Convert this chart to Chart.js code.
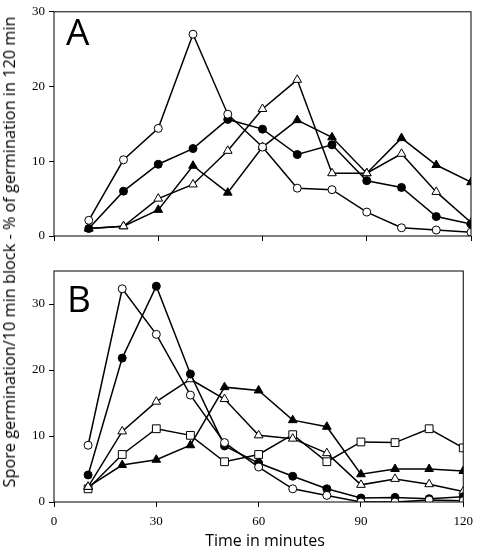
<!DOCTYPE html>
<html>
<head>
<meta charset="utf-8">
<script src="https://cdn.jsdelivr.net/npm/chart.js@4.4.0/dist/chart.umd.min.js"></script>
<style>
  body { margin: 0; background: #fff; }
  #wrap { position: relative; width: 480px; height: 550px; overflow: hidden; }
  #cA { position: absolute; left: 0; top: 0; }
  #cB { position: absolute; left: 0; top: 250px; }
  .lbl { position: absolute; font-family: "Open Sans", sans-serif; color: #000; white-space: nowrap; }
  #ytitle { left: 9px; top: 252px; font-size: 16.3px; transform: translate(-50%, -50%) rotate(-90deg); }
  #xtitle { left: 265px; top: 540px; font-size: 16px; transform: translate(-50%, -50%); }
</style>
</head>
<body>
<div id="wrap">
  <canvas id="cA" width="480" height="250"></canvas>
  <canvas id="cB" width="480" height="300"></canvas>
  <div class="lbl" id="ytitle">Spore germination/10 min block - % of germination in 120 min</div>
  <div class="lbl" id="xtitle">Time in minutes</div>
</div>
<script>
var minutes = [10, 20, 30, 40, 50, 60, 70, 80, 90, 100, 110, 120];

// panel A
var aOpenCircle   = [2.1, 10.2, 14.4, 27.0, 16.3, 11.9, 6.4, 6.2, 3.2, 1.1, 0.8, 0.5];
var aFilledCircle = [1.0, 6.0, 9.6, 11.7, 15.6, 14.3, 10.9, 12.2, 7.4, 6.5, 2.6, 1.6];
var aOpenTri      = [1.0, 1.3, 5.0, 6.9, 11.4, 17.0, 20.9, 8.4, 8.4, 11.0, 5.9, 1.8];
var aFilledTri    = [1.0, 1.3, 3.5, 9.4, 5.8, 11.9, 15.5, 13.2, 8.4, 13.1, 9.5, 7.2];

// panel B
var bOpenCircle   = [8.6, 32.3, 25.4, 16.2, 9.0, 5.3, 2.0, 1.0, 0.0, 0.0, 0.3, 0.2];
var bFilledCircle = [4.1, 21.8, 32.7, 19.4, 8.5, 5.9, 3.9, 2.0, 0.6, 0.7, 0.5, 0.8];
var bOpenTri      = [2.3, 10.7, 15.2, 18.6, 15.6, 10.1, 9.6, 7.4, 2.6, 3.5, 2.7, 1.6];
var bFilledTri    = [2.3, 5.6, 6.4, 8.6, 17.4, 16.9, 12.4, 11.4, 4.2, 5.0, 5.0, 4.7];
var bOpenSquare   = [2.0, 7.2, 11.1, 10.1, 6.1, 7.2, 10.2, 6.1, 9.1, 9.0, 11.1, 8.2];

var xTicks = [0, 30, 60, 90, 120];
var yTicks = [0, 10, 20, 30];

function pts(vals) {
  return vals.map(function(v, i) { return {x: minutes[i], y: v}; });
}

function series(vals, style, filled) {
  var r = style === 'circle' ? 4 : (style === 'rect' ? 5.5 : 5);
  return {
    data: pts(vals),
    borderColor: '#000',
    borderWidth: 1.5,
    pointStyle: style,
    pointRadius: r,
    pointBorderWidth: 1,
    pointBorderColor: '#000',
    pointBackgroundColor: filled ? '#000' : '#fff',
    tension: 0,
    fill: false
  };
}

var boxPlugin = {
  id: 'box',
  afterDraw: function(chart, args, opts) {
    var a = chart.chartArea, ctx = chart.ctx;
    ctx.save();
    ctx.strokeStyle = '#000';
    ctx.lineWidth = 1;
    ctx.strokeRect(a.left, a.top, a.right - a.left, a.bottom - a.top);
    ctx.font = '37px "Open Sans", sans-serif';
    ctx.fillStyle = '#000';
    ctx.textBaseline = 'alphabetic';
    ctx.fillText(opts.letter, opts.lx, opts.ly);
    ctx.restore();
  }
};

function makeChart(id, datasets, ymax, showX, pad, xh, letter, lx, ly) {
  return new Chart(document.getElementById(id), {
    type: 'line',
    data: { datasets: datasets },
    plugins: [boxPlugin],
    options: {
      responsive: false,
      animation: false,
      layout: { padding: pad },
      plugins: {
        legend: { display: false },
        tooltip: { enabled: false },
        box: { letter: letter, lx: lx, ly: ly }
      },
      scales: {
        x: {
          type: 'linear',
          min: 0, max: 120,
          afterBuildTicks: function(s) { s.ticks = xTicks.map(function(v) { return {value: v}; }); },
          afterFit: function(s) { s.height = xh; },
          border: { display: false },
          grid: { drawOnChartArea: false, drawTicks: true, tickLength: 5, color: '#000' },
          ticks: {
            display: showX,
            color: '#000',
            padding: 7,
            maxRotation: 0,
            font: { family: '"Liberation Serif", serif', size: 13 }
          }
        },
        y: {
          min: 0, max: ymax,
          afterBuildTicks: function(s) { s.ticks = yTicks.map(function(v) { return {value: v}; }); },
          afterFit: function(s) { s.width = 54; },
          border: { display: false },
          grid: { drawOnChartArea: false, drawTicks: true, tickLength: 5, color: '#000' },
          ticks: {
            color: '#000',
            padding: 4,
            font: { family: '"Liberation Serif", serif', size: 13 }
          }
        }
      }
    }
  });
}

makeChart('cA', [
  series(aOpenCircle, 'circle', false),
  series(aFilledCircle, 'circle', true),
  series(aOpenTri, 'triangle', false),
  series(aFilledTri, 'triangle', true)
], 30, false, {left: 0, top: 4, right: 9, bottom: 0}, 14, 'A', 66, 45);

makeChart('cB', [
  series(bOpenCircle, 'circle', false),
  series(bFilledCircle, 'circle', true),
  series(bOpenTri, 'triangle', false),
  series(bFilledTri, 'triangle', true),
  series(bOpenSquare, 'rect', false)
], 35, true, {left: 0, top: 21, right: 9, bottom: 0}, 48, 'B', 67, 62);
</script>
</body>
</html>
